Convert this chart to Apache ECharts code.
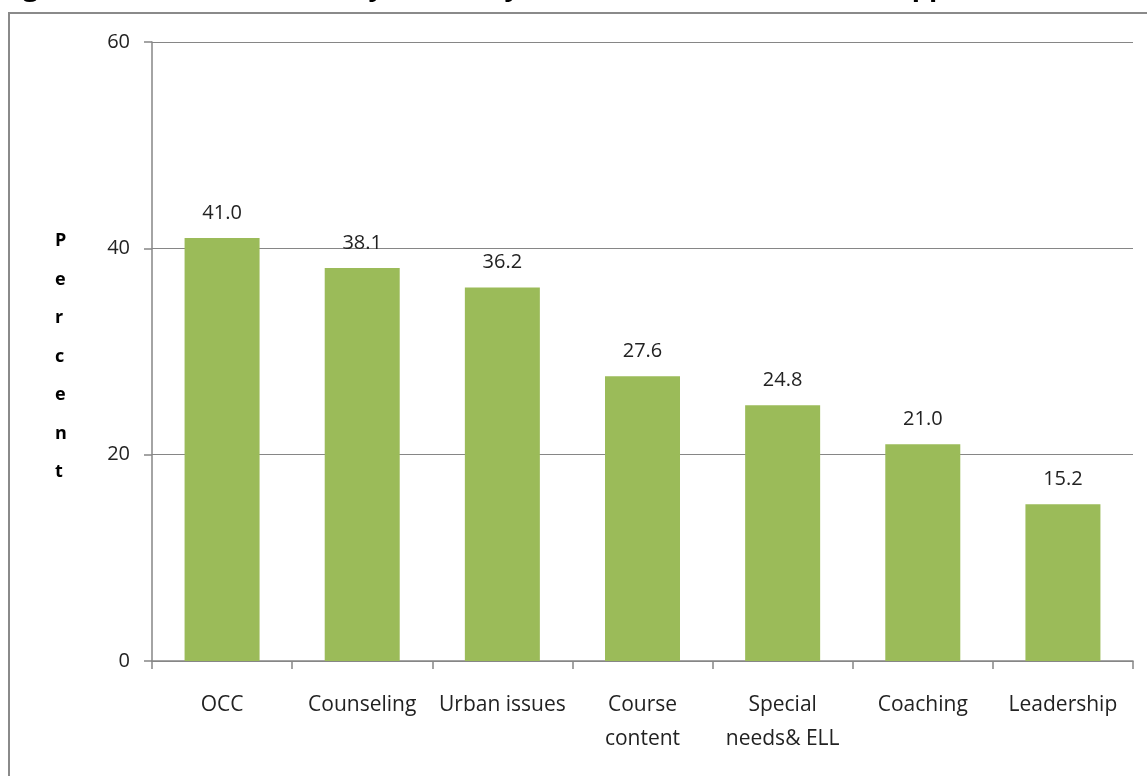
<!DOCTYPE html>
<html><head><meta charset="utf-8">
<script src="https://cdn.jsdelivr.net/npm/echarts@6/dist/echarts.min.js"></script>
<style>html,body{margin:0;padding:0;background:#fff;}#c{width:1147px;height:776px;}</style>
</head><body><div id="c"></div>
<script>
const categories = ['OCC', 'Counseling', 'Urban issues', 'Course\ncontent', 'Special\nneeds& ELL', 'Coaching', 'Leadership'];
const values = [41.0, 38.1, 36.2, 27.6, 24.8, 21.0, 15.2];
const yTicks = [0, 20, 40, 60];
const titleText = 'Figure 23: In what areas do you think your school could use more support?';
const yName = 'Percent';

const font = '"Open Sans", sans-serif';
const chart = echarts.init(document.getElementById('c'));
chart.setOption({
  animation: false,
  backgroundColor: '#fff',
  grid: { left: 152, right: 14, top: 42, bottom: 115, containLabel: false },
  graphic: [
    { type: 'rect', shape: { x: 9, y: 13, width: 1200, height: 800 }, style: { fill: 'none', stroke: '#8a8a8a', lineWidth: 2 }, z: 0 },
    { type: 'text', left: 0, top: -25, style: { text: titleText, font: 'bold 27px ' + font, fill: '#000' } },
    { type: 'text', left: 55, top: 222, style: { text: yName.split('').join('\n'), font: 'bold 18px ' + font, fill: '#000', lineHeight: 38.5, align: 'center', width: 16 } }
  ],
  xAxis: {
    type: 'category', data: categories,
    axisLine: { lineStyle: { color: '#868686', width: 1.5 } },
    axisTick: { show: true, length: 8, lineStyle: { color: '#868686', width: 1.5 } },
    axisLabel: { color: '#222', fontSize: 21, fontFamily: font, margin: 27, lineHeight: 34, interval: 0 }
  },
  yAxis: {
    type: 'value', min: 0, max: 60, interval: 20,
    axisLine: { show: true, lineStyle: { color: '#868686', width: 1.5 } },
    axisTick: { show: true, length: 8, lineStyle: { color: '#868686', width: 1.5 } },
    axisLabel: { color: '#222', fontSize: 20, fontFamily: font, margin: 22 },
    splitLine: { lineStyle: { color: '#868686', width: 1.2 } }
  },
  series: [{
    type: 'bar', data: values, barWidth: 75,
    itemStyle: { color: '#9BBB59' },
    label: { show: true, position: 'top', distance: 15, color: '#222', fontSize: 20, fontFamily: font, formatter: p => p.value.toFixed(1) }
  }]
});
</script></body></html>
